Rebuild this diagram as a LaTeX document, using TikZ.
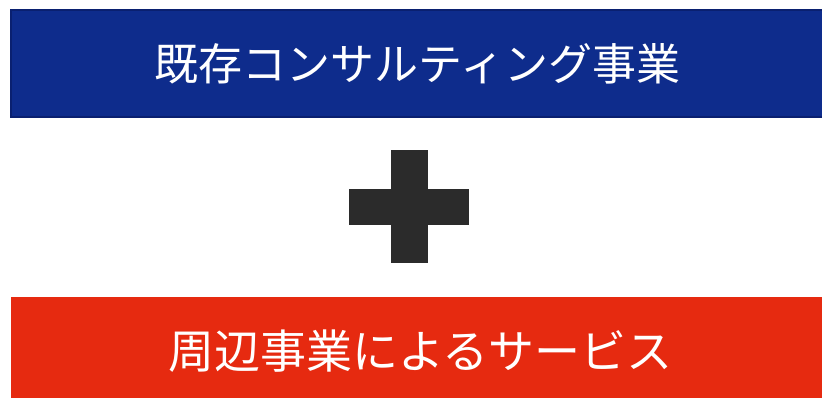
\documentclass[tikz,border=0pt]{standalone}
\usepackage{fontspec}
\newfontfamily\cjk{Noto Sans CJK JP}
\definecolor{boxblue}{HTML}{0E2C8C}
\definecolor{boxblueedge}{HTML}{0A2070}
\definecolor{boxred}{HTML}{E62A10}
\definecolor{plusgray}{HTML}{2B2B2B}
\begin{document}
\begin{tikzpicture}[x=0.75pt,y=-0.75pt,
  banner/.style={font=\cjk, text=white, anchor=center}]
\useasboundingbox (0,0) rectangle (822,398);
\fill[white] (0,0) rectangle (822,398);
% top box
\fill[boxblue, draw=boxblueedge, line width=1.5pt] (10.5,10.5) rectangle (823,117.5);
\node[banner, font=\cjk\fontsize{33}{38}\selectfont] (top) at (417.5,64) {既存コンサルティング事業};
% plus
\fill[plusgray] (391,150) rectangle (428,263);
\fill[plusgray] (349,189) rectangle (469,225);
% bottom box
\fill[boxred] (11,297) rectangle (823,399);
\node[banner, font=\cjk\fontsize{34.5}{40}\selectfont] (bottom) at (420.5,351) {周辺事業によるサービス};
\end{tikzpicture}
\end{document}
